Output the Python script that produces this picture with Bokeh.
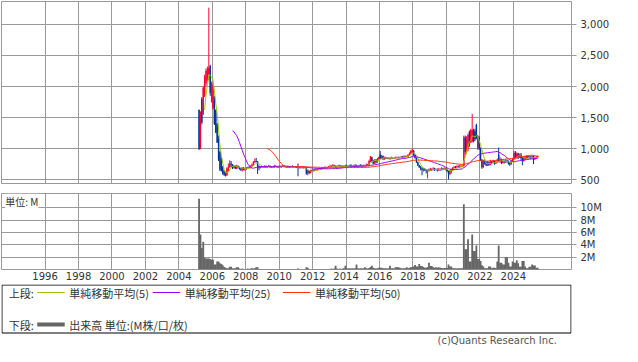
import numpy as np
import pandas as pd
from bokeh.plotting import figure
from bokeh.layouts import column
from bokeh.models import Range1d, FixedTicker, NumeralTickFormatter, Label, Grid
from bokeh.embed import file_html
from bokeh.resources import INLINE
from bokeh.core.properties import value

# ---------------- data (monthly, 2005-03 .. 2025-06) ----------------
start_month = "2005-03-01"

open_ = [
    1620, 1000, 1800, 1560, 1850, 2050, 2100, 2150, 2330, 1760,            # 2005
    1650, 1830, 1620, 1400, 1150, 950, 850, 700, 640, 620, 570, 640,       # 2006
    700, 760, 740, 690, 720, 680, 720, 700, 680, 660, 690, 660,            # 2007
    670, 690, 700, 690, 720, 740, 780, 800, 790, 720, 690, 700,            # 2008
    710, 700, 720, 700, 710, 720, 700, 710, 700, 720, 710, 700,            # 2009
    710, 700, 710, 720, 710, 700, 710, 700, 710, 720, 710, 700,            # 2010
    710, 720, 690, 700, 690, 700, 690, 690, 600, 640, 610, 650,            # 2011
    640, 660, 650, 670, 660, 680, 670, 690, 680, 700, 690, 700,            # 2012
    710, 720, 710, 730, 720, 710, 720, 730, 720, 710, 720, 710,            # 2013
    720, 710, 720, 730, 710, 720, 730, 720, 710, 720, 730, 720,            # 2014
    730, 720, 720, 740, 730, 790, 860, 800, 760, 820, 780, 830,            # 2015
    900, 840, 880, 830, 860, 850, 840, 850, 840, 850, 840, 850,            # 2016
    850, 860, 850, 860, 870, 860, 880, 870, 870, 900, 920, 950,            # 2017
    960, 900, 850, 780, 730, 700, 680, 660, 670, 650, 640, 660,            # 2018
    650, 670, 660, 680, 660, 670, 650, 670, 660, 680, 670, 680,            # 2019
    670, 640, 590, 620, 650, 690, 700, 690, 710, 700, 710, 715,            # 2020
    720, 1180, 950, 1000, 1270, 1100, 1120, 1300, 1280, 1380, 1000, 1180,  # 2021
    1000, 820, 700, 800, 780, 730, 780, 740, 790, 770, 800, 760,           # 2022
    790, 900, 790, 830, 770, 800, 780, 810, 800, 780, 750, 800,            # 2023
    830, 930, 850, 920, 860, 900, 860, 800, 860, 840, 880, 850,            # 2024
    870, 850, 880, 830, 850, 860,                                          # 2025
]

high = [
    1630, 1600, 1830, 2010, 2190, 2290, 2320, 3270, 2350, 2080,
    2030, 1850, 1630, 1410, 1210, 960, 860, 720, 650, 630, 700, 760,
    810, 800, 750, 740, 730, 740, 730, 710, 690, 700, 700, 690,
    700, 710, 720, 730, 760, 800, 840, 850, 800, 730, 710, 720,
    720, 730, 730, 720, 740, 730, 720, 720, 740, 730, 720, 720,
    720, 720, 730, 730, 720, 720, 720, 710, 720, 730, 720, 720,
    720, 760, 710, 705, 710, 710, 700, 700, 660, 650, 660, 660,
    670, 670, 680, 680, 690, 690, 700, 700, 710, 710, 710, 720,
    740, 730, 750, 740, 730, 730, 740, 740, 730, 730, 730, 740,
    740, 730, 740, 750, 730, 740, 750, 740, 730, 740, 750, 740,
    740, 740, 760, 750, 820, 880, 870, 820, 830, 830, 850, 870,
    960, 900, 890, 870, 870, 860, 860, 860, 870, 860, 860, 870,
    870, 870, 870, 880, 880, 890, 890, 890, 910, 940, 980, 1000,
    980, 910, 860, 790, 740, 720, 700, 690, 690, 670, 660, 680,
    690, 680, 700, 690, 680, 680, 690, 680, 700, 690, 700, 690,
    680, 650, 650, 680, 700, 720, 720, 730, 730, 740, 740, 740,
    1210, 1210, 1200, 1240, 1290, 1320, 1560, 1320, 1320, 1400, 1220, 1200,
    1020, 830, 820, 830, 800, 800, 790, 820, 800, 820, 810, 810,
    840, 1017, 860, 840, 820, 810, 830, 820, 810, 790, 820, 850,
    960, 960, 940, 930, 920, 930, 870, 880, 880, 890, 890, 880,
    880, 890, 890, 870, 880, 890,
]

low = [
    980, 990, 1390, 1540, 1830, 2000, 2080, 2100, 1850, 1740,
    1630, 1380, 1250, 1090, 800, 640, 630, 580, 560, 550, 560, 620,
    690, 700, 670, 680, 670, 670, 680, 660, 640, 630, 650, 640,
    660, 680, 690, 680, 710, 730, 770, 780, 590, 650, 680, 690,
    690, 690, 690, 690, 700, 690, 690, 690, 690, 700, 690, 690,
    700, 690, 700, 700, 700, 690, 700, 690, 700, 700, 700, 690,
    690, 555, 680, 680, 680, 680, 680, 580, 570, 590, 600, 620,
    630, 640, 640, 650, 650, 660, 660, 670, 670, 680, 680, 690,
    700, 700, 700, 710, 690, 700, 710, 700, 700, 700, 700, 700,
    700, 700, 710, 700, 700, 710, 710, 700, 700, 710, 710, 700,
    710, 710, 710, 720, 720, 780, 780, 750, 750, 760, 770, 820,
    830, 830, 820, 820, 830, 830, 830, 820, 830, 830, 830, 840,
    840, 840, 840, 850, 850, 850, 860, 860, 860, 890, 910, 930,
    880, 840, 770, 720, 690, 650, 570, 630, 640, 600, 520, 630,
    640, 640, 650, 640, 650, 630, 640, 640, 650, 650, 660, 650,
    620, 505, 570, 600, 640, 680, 680, 680, 690, 690, 700, 700,
    710, 900, 920, 960, 1030, 1090, 1100, 1100, 1120, 1150, 980, 980,
    800, 675, 690, 740, 720, 720, 720, 730, 750, 760, 740, 750,
    770, 780, 770, 750, 760, 760, 770, 770, 740, 720, 740, 790,
    820, 830, 840, 830, 850, 820, 730, 790, 820, 830, 840, 840,
    830, 840, 750, 820, 840, 850,
]

close = [
    990, 1580, 1420, 1980, 2150, 2250, 2280, 2300, 1900, 2050,
    2000, 1400, 1260, 1100, 820, 660, 640, 600, 580, 570, 680, 700,
    760, 740, 690, 720, 680, 720, 700, 680, 660, 690, 660, 670,
    690, 700, 690, 720, 740, 780, 800, 790, 720, 690, 700, 710,
    700, 720, 700, 710, 720, 700, 710, 700, 720, 710, 700, 710,
    700, 710, 720, 710, 700, 710, 700, 710, 720, 710, 700, 710,
    700, 690, 700, 690, 700, 690, 690, 600, 650, 610, 650, 640,
    660, 650, 670, 660, 680, 670, 690, 680, 700, 690, 700, 710,
    720, 710, 730, 720, 710, 720, 730, 720, 710, 720, 710, 720,
    710, 720, 730, 710, 720, 730, 720, 710, 720, 730, 720, 730,
    720, 720, 740, 730, 800, 870, 800, 760, 820, 780, 830, 860,
    840, 880, 830, 860, 850, 840, 850, 840, 850, 840, 850, 860,
    860, 850, 860, 870, 860, 880, 870, 880, 900, 920, 960, 970,
    900, 850, 780, 730, 700, 680, 660, 670, 650, 640, 660, 650,
    670, 660, 680, 660, 670, 650, 670, 660, 680, 670, 680, 670,
    640, 590, 640, 670, 690, 700, 690, 710, 700, 710, 720, 725,
    1180, 950, 1150, 1220, 1050, 1300, 1300, 1120, 1150, 1170, 1200, 1000,
    820, 700, 800, 760, 730, 780, 740, 790, 770, 800, 760, 790,
    820, 800, 830, 770, 800, 780, 810, 790, 760, 750, 800, 830,
    930, 850, 920, 860, 900, 850, 800, 860, 840, 880, 850, 870,
    850, 880, 820, 860, 870, 880,
]

# volume in millions of shares
volume = [
    11.5, 5.7, 3.5, 4.5, 1.9, 1.8, 1.8, 1.8, 1.7, 1.6,
    1.6, 0.8, 0.8, 1.3, 1.3, 1.0, 0.9, 0.7, 0.4, 0.3, 0.2, 0.2,
    0.45, 0.45, 0.2, 0.15, 0.2, 0.35, 0.35, 0.15, 0.1, 0.15, 0.1, 0.1,
    0.1, 0.15, 0.1, 0.15, 0.2, 0.15, 0.2, 0.35, 0.35, 0.1, 0.1, 0.05,
    0.05, 0.1, 0.05, 0.05, 0.1, 0.05, 0.05, 0.05, 0.1, 0.05, 0.05, 0.05,
    0.05, 0.05, 0.1, 0.05, 0.05, 0.05, 0.1, 0.05, 0.05, 0.05, 0.1, 0.05,
    0.05, 0.15, 0.05, 0.05, 0.05, 0.05, 0.1, 0.35, 0.3, 0.1, 0.05, 0.05,
    0.05, 0.1, 0.05, 0.05, 0.1, 0.05, 0.05, 0.1, 0.05, 0.1, 0.05, 0.1,
    0.1, 0.15, 0.1, 0.15, 0.6, 0.15, 0.1, 0.15, 0.1, 0.15, 0.2, 0.6,
    0.2, 0.15, 0.2, 0.15, 0.2, 0.15, 0.2, 0.8, 0.2, 0.15, 0.2, 0.15,
    0.2, 0.35, 0.2, 0.15, 0.25, 0.4, 0.6, 0.3, 0.2, 0.15, 0.2, 0.3,
    0.3, 0.3, 0.2, 0.2, 0.2, 0.15, 0.2, 0.6, 0.2, 0.2, 0.15, 0.35,
    0.35, 0.35, 0.3, 0.2, 0.15, 0.2, 0.2, 0.35, 0.2, 0.3, 0.35, 0.4,
    0.5, 0.75, 0.5, 0.5, 0.9, 0.55, 0.55, 0.4, 0.3, 0.3, 0.4, 1.1,
    0.55, 0.55, 0.35, 0.3, 0.35, 0.3, 0.35, 0.3, 0.25, 0.2, 0.25, 0.25,
    0.25, 0.8, 0.5, 0.5, 0.2, 0.2, 0.2, 0.15, 0.2, 0.2, 0.2, 0.2,
    10.6, 3.3, 3.3, 4.9, 1.3, 1.3, 5.7, 3.0, 3.0, 3.9, 1.7, 1.7,
    1.4, 0.7, 0.5, 0.2, 0.2, 0.2, 0.5, 0.5, 0.2, 0.3, 0.3, 0.2,
    1.3, 3.9, 1.1, 1.1, 0.8, 0.8, 2.0, 2.0, 1.1, 0.5, 0.5, 1.3,
    1.1, 1.1, 1.5, 1.0, 0.45, 0.45, 1.4, 1.4, 0.5, 0.2, 0.2, 0.45,
    0.45, 0.8, 0.65, 0.65, 0.3, 0.3,
]

year_ticks = [1996, 1998, 2000, 2002, 2004, 2006, 2008, 2010, 2012,
              2014, 2016, 2018, 2020, 2022, 2024]
price_ticks = [500, 1000, 1500, 2000, 2500, 3000]
vol_ticks = [2, 4, 6, 8, 10]
vol_tick_labels = ["2M", "4M", "6M", "8M", "10M"]
ma_periods = [5, 25, 50]
ma_labels = ["単純移動平均(5)", "単純移動平均(25)", "単純移動平均(50)"]
ma_colors = ["#99cc00", "#9900ff", "#ff3300"]

# ---------------- derived ----------------
n = len(close)
months = pd.date_range(start_month, periods=n, freq="MS")
xs = np.array(months.year + (months.month - 1 + 0.5) / 12.0, dtype=float)
o = np.array(open_, float); h = np.array(high, float)
l = np.array(low, float); c = np.array(close, float)
up = c >= o
UP_COL, DN_COL = "#ff0033", "#003399"
cols = np.where(up, UP_COL, DN_COL)
ma = [pd.Series(c).rolling(k).mean().to_numpy() for k in ma_periods]

GRID = "#999999"
TXT = "#333333"
FONT = "DejaVu Sans"
JP = "Noto Sans CJK JP"
xr = Range1d(1993.394, 2027.48)

# ---------------- price panel ----------------
p1 = figure(width=622, height=188, x_range=xr, y_range=Range1d(438, 3369),
            x_axis_location=None, y_axis_location="right",
            output_backend="svg", toolbar_location=None,
            min_border_left=1, min_border_top=1, min_border_bottom=5, min_border_right=51)
p1.xgrid.visible = False
p1.add_layout(Grid(dimension=0, ticker=FixedTicker(ticks=year_ticks),
                   grid_line_color=GRID, grid_line_width=1))
p1.ygrid.ticker = FixedTicker(ticks=price_ticks)
p1.ygrid.grid_line_color = GRID
p1.outline_line_color = GRID
ax = p1.yaxis[0]
ax.ticker = FixedTicker(ticks=price_ticks)
ax.formatter = NumeralTickFormatter(format="0,0")
ax.axis_line_color = None
ax.major_tick_out = 5
ax.major_tick_in = 0
ax.minor_tick_line_color = None
ax.major_tick_line_color = GRID
ax.major_label_standoff = 4
ax.major_label_text_font = FONT
ax.major_label_text_font_size = "10px"
ax.major_label_text_color = TXT

p1.segment(x0=xs, y0=l, x1=xs, y1=h, line_color=cols, line_width=1)
p1.vbar(x=xs, width=1.0 / 12, top=np.maximum(o, c), bottom=np.minimum(o, c),
        fill_color=cols, line_color=None)
for m, col in zip(ma, ma_colors):
    p1.line(xs, m, line_color=col, line_width=1)

# ---------------- volume panel ----------------
p2 = figure(width=622, height=96, x_range=xr, y_range=Range1d(0, 12.35),
            y_axis_location="right", output_backend="svg", toolbar_location=None,
            min_border_left=1, min_border_top=5, min_border_bottom=15, min_border_right=51)
p2.outline_line_color = GRID
p2.xgrid.ticker = FixedTicker(ticks=year_ticks)
p2.xgrid.grid_line_color = GRID
p2.ygrid.ticker = FixedTicker(ticks=vol_ticks)
p2.ygrid.grid_line_color = GRID
xa = p2.xaxis[0]
xa.ticker = FixedTicker(ticks=year_ticks)
xa.major_label_overrides = {t: str(t) for t in year_ticks}
xa.axis_line_color = None
xa.major_tick_out = 0
xa.major_tick_in = 0
xa.minor_tick_line_color = None
xa.major_label_standoff = 2
xa.major_label_text_font = FONT
xa.major_label_text_font_size = "10px"
xa.major_label_text_color = TXT
ya = p2.yaxis[0]
ya.ticker = FixedTicker(ticks=vol_ticks)
ya.major_label_overrides = dict(zip(vol_ticks, vol_tick_labels))
ya.axis_line_color = None
ya.major_tick_out = 5
ya.major_tick_in = 0
ya.minor_tick_line_color = None
ya.major_tick_line_color = GRID
ya.major_label_standoff = 4
ya.major_label_text_font = FONT
ya.major_label_text_font_size = "10px"
ya.major_label_text_color = TXT

p2.vbar(x=xs, width=1.3 / 12, top=volume, bottom=0, fill_color="#666666", line_color=None)
p2.add_layout(Label(x=1993.62, y=12.33, text="単位: M", text_font=JP, text_font_size="10px",
                    text_color=TXT, text_baseline="top", background_fill_color="white"))

# ---------------- legend panel ----------------
p3 = figure(width=622, height=62, x_range=Range1d(0, 622), y_range=Range1d(62, 0),
            x_axis_location=None, y_axis_location=None, output_backend="svg",
            toolbar_location=None, min_border=0)
p3.outline_line_color = None
p3.xgrid.visible = False
p3.ygrid.visible = False
p3.quad(left=[0.5], right=[621.5], top=[0.5], bottom=[48.5], fill_color=None,
        line_color="#000000", line_width=1)
row1, row2 = 8, 40
p3.text(x=[8, 8], y=[row1, row2], text=["上段:", "下段:"], text_font=value(JP),
        text_font_size="11px", text_color=TXT, text_baseline="middle")
line_x0 = [39, 165, 307]
for x0, col, lab in zip(line_x0, ma_colors, ma_labels):
    p3.segment(x0=[x0], y0=[row1], x1=[x0 + 30], y1=[row1], line_color=col, line_width=1)
    p3.text(x=[x0 + 35], y=[row1], text=[lab], text_font=value(JP), text_font_size="11px",
            text_color=TXT, text_baseline="middle")
p3.segment(x0=[39], y0=[row2], x1=[69], y1=[row2], line_color="#666666", line_width=4)
p3.text(x=[74], y=[row2], text=["出来高 単位:(M株/口/枚)"], text_font=value(JP),
        text_font_size="11px", text_color=TXT, text_baseline="middle")
p3.text(x=[606], y=[56], text=["(c)Quants Research Inc."], text_font=value(FONT),
        text_font_size="10px", text_color="#555555", text_align="right", text_baseline="middle")

layout = column(p1, p2, p3, spacing=0)
open("out.html", "w").write(file_html(layout, INLINE))
